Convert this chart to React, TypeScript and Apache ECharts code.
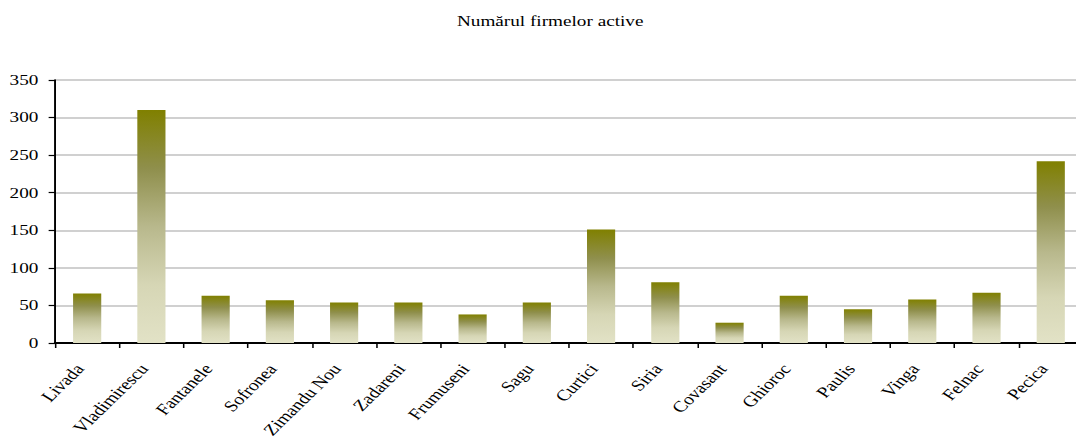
import React, { useEffect, useRef } from "react";
import * as echarts from "echarts";

const categories = [
  "Livada", "Vladimirescu", "Fantanele", "Sofronea", "Zimandu Nou", "Zadareni",
  "Frumuseni", "Sagu", "Curtici", "Siria", "Covasant", "Ghioroc", "Paulis",
  "Vinga", "Felnac", "Pecica",
];
const values = [66, 310, 63, 57, 54, 54, 38, 54, 151, 81, 27, 63, 45, 58, 67, 242];
const titleText = "Numărul firmelor active";

const SX = 1.28;
const W = 841;
const H = 442;

export default function App() {
  const ref = useRef<HTMLDivElement>(null);
  useEffect(() => {
    if (!ref.current) return;
    const chart = echarts.init(ref.current, undefined, { renderer: "svg" });
    const font = "'Liberation Serif', 'Times New Roman', serif";
    chart.setOption({
      animation: false,
      backgroundColor: "#ffffff",
      title: {
        text: titleText,
        left: 352,
        top: 9,
        textStyle: { fontFamily: font, fontSize: 15, fontWeight: "normal", color: "#000" },
      },
      grid: { left: 43, right: -5, top: 80, bottom: 99, outerBoundsMode: "none", containLabel: false },
      xAxis: {
        type: "category",
        data: categories,
        axisLine: { lineStyle: { color: "#000", width: 2 } },
        axisTick: { show: true, length: 5, lineStyle: { color: "#000", width: 1.2 } },
        axisLabel: {
          rotate: 51,
          interval: 0,
          margin: 16,
          padding: [0, 9, 0, 0],
          fontFamily: font,
          fontSize: 15.5,
          color: "#000",
        },
      },
      yAxis: {
        type: "value",
        min: 0,
        max: 350,
        interval: 50,
        axisLine: { show: true, lineStyle: { color: "#000", width: 1.5 } },
        axisTick: { show: true, length: 5, lineStyle: { color: "#000", width: 1.2 } },
        axisLabel: { margin: 13, fontFamily: font, fontSize: 15, color: "#000" },
        splitLine: { lineStyle: { color: "#c0c0c0", width: 1.5 } },
      },
      series: [
        {
          type: "bar",
          data: values,
          barWidth: 22,
          itemStyle: {
            color: new echarts.graphic.LinearGradient(0, 0, 0, 1, [
              { offset: 0, color: "#808000" },
              { offset: 0.25, color: "#8f8f4c" },
              { offset: 0.5, color: "#b8b88c" },
              { offset: 0.75, color: "#d6d6b5" },
              { offset: 1, color: "#e2e2c6" },
            ]),
          },
        },
      ],
    });
    return () => chart.dispose();
  }, []);
  return (
    <div style={{ position: "fixed", left: 0, top: 0, width: 1076, height: H, overflow: "hidden", background: "#fff" }}>
      <div
        ref={ref}
        style={{ width: W, height: H, transform: `scaleX(${SX})`, transformOrigin: "0 0" }}
      />
    </div>
  );
}
